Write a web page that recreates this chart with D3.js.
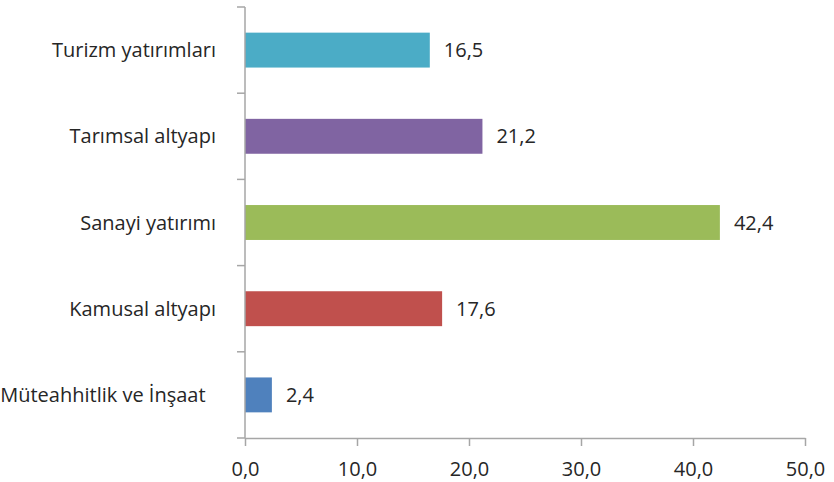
<!DOCTYPE html>
<html>
<head>
<meta charset="utf-8">
<script src="https://cdn.jsdelivr.net/npm/d3@7"></script>
<style>
  body { margin: 0; background: #fff; }
  text { font-family: "Open Sans", sans-serif; fill: #262626; }
</style>
</head>
<body>
<div id="chart"></div>
<script>
// Sector shares (%), top to bottom as drawn
const categories = ["Turizm yatırımları", "Tarımsal altyapı", "Sanayi yatırımı", "Kamusal altyapı", "Müteahhitlik ve İnşaat  "];
const values = [16.5, 21.2, 42.4, 17.6, 2.4];
const colors = ["#4BACC6", "#8064A2", "#9BBB59", "#C0504D", "#4F81BD"];
const xTicks = [0, 10, 20, 30, 40, 50];

const width = 834, height = 482;
const margin = { top: 7, right: 29, bottom: 44, left: 245 };
const fontSize = "20px";

const svg = d3.select("#chart").append("svg")
    .attr("width", width)
    .attr("height", height);

const x = d3.scaleLinear()
    .domain([0, 50])
    .range([margin.left, width - margin.right]);

const y = d3.scaleBand()
    .domain(categories)
    .range([margin.top, height - margin.bottom]);

const fmt = d => d.toFixed(1).replace(".", ",");
const axisColor = "#a6a6a6";

// Bars
const barH = y.bandwidth() * 0.405;
svg.append("g")
    .selectAll("rect")
    .data(values)
    .enter()
    .append("rect")
    .attr("x", x(0))
    .attr("y", (d, i) => y(categories[i]) + (y.bandwidth() - barH) / 2)
    .attr("width", d => x(d) - x(0))
    .attr("height", barH)
    .attr("fill", (d, i) => colors[i]);

// Value labels
svg.append("g")
    .selectAll("text")
    .data(values)
    .enter()
    .append("text")
    .attr("x", d => x(d) + 14)
    .attr("y", (d, i) => y(categories[i]) + y.bandwidth() / 2)
    .attr("dy", "0.35em")
    .style("font-size", fontSize)
    .text(fmt);

// Y axis: line + boundary ticks between categories
const yAxis = svg.append("g");
yAxis.append("line")
    .attr("x1", x(0)).attr("x2", x(0))
    .attr("y1", margin.top).attr("y2", height - margin.bottom)
    .attr("stroke", axisColor).attr("stroke-width", 1.5);
const bounds = categories.map(c => y(c)).concat([height - margin.bottom]);
yAxis.selectAll("line.tick")
    .data(bounds)
    .enter()
    .append("line")
    .attr("class", "tick")
    .attr("x1", x(0) - 8).attr("x2", x(0))
    .attr("y1", d => d).attr("y2", d => d)
    .attr("stroke", axisColor).attr("stroke-width", 1.5);
yAxis.selectAll("text")
    .data(categories)
    .enter()
    .append("text")
    .attr("x", x(0) - 29)
    .attr("y", d => y(d) + y.bandwidth() / 2)
    .attr("dy", "0.35em")
    .attr("text-anchor", "end")
    .style("font-size", fontSize)
    .style("white-space", "pre")
    .text(d => d);

// X axis
const xAxis = svg.append("g")
    .attr("transform", `translate(0,${height - margin.bottom})`)
    .call(d3.axisBottom(x).tickValues(xTicks).tickFormat(fmt).tickSize(8).tickSizeOuter(0).tickPadding(16));
xAxis.select(".domain").attr("stroke", axisColor).attr("stroke-width", 1.5);
xAxis.selectAll(".tick line").attr("stroke", axisColor).attr("stroke-width", 1.5);
xAxis.selectAll(".tick text")
    .style("font-family", "'Open Sans', sans-serif")
    .style("font-size", fontSize)
    .attr("fill", "#262626");
</script>
</body>
</html>
